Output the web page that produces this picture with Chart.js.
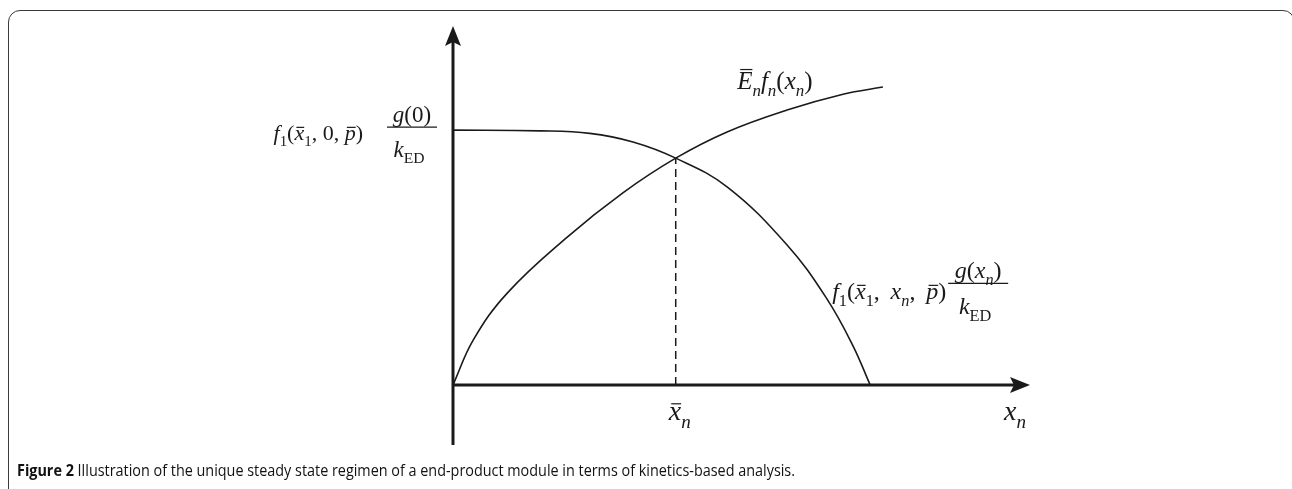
<!DOCTYPE html>
<html>
<head>
<meta charset="utf-8">
<script src="https://cdn.jsdelivr.net/npm/chart.js@4"></script>
<style>
  html, body { margin: 0; padding: 0; background: #fff; }
  #wrap { position: relative; width: 1292px; height: 489px; overflow: hidden; }
  #frame {
    position: absolute; left: 8px; top: 10px; width: 1287px; height: 520px;
    border: 1.5px solid #3a3a3a; border-radius: 12px; box-sizing: border-box;
  }
  #box { position: absolute; left: 0; top: 0; width: 1292px; height: 489px; }
</style>
</head>
<body>
<div id="wrap">
  <div id="frame"></div>
  <div id="box"><canvas id="chart"></canvas></div>
</div>
<script>
// decreasing curve f1(x1, xn, p) g(xn)/kED
const supplyX = [0, 15.1, 23.7, 31.2, 38.6, 47.5, 57.9, 64.8, 69.3, 72.3];
const supplyY = [71.0, 70.8, 70.1, 67.7, 63.2, 55.2, 39.0, 24.0, 11.0, 0];
// increasing curve En fn(xn)
const demandX = [0, 3.5, 9.4, 19.8, 29.5, 38.6, 47.5, 57.9, 67.6, 74.5];
const demandY = [0, 12.5, 25.6, 41.2, 53.6, 63.2, 70.5, 76.6, 81.0, 83.0];
// steady state
const steadyX = [38.6, 38.6];
const steadyY = [0, 63.2];

const caption = 'Illustration of the unique steady state regimen of a end-product module in terms of kinetics-based analysis.';

const pts = (xs, ys) => xs.map((x, i) => ({ x: x, y: ys[i] }));
const INK = '#1a1a1a';
const SERIF = '"Liberation Serif", "Times New Roman", serif';

// tiny math-text writer: t text, i italic, s subscript, b overbar
function rich(ctx, segs, x, y, size, align) {
  const parts = segs.map(s => {
    const fs = s.s ? size * 0.68 : size;
    const font = (s.i ? 'italic ' : '') + fs + 'px ' + SERIF;
    ctx.font = font;
    return { s: s, font: font, w: ctx.measureText(s.t).width };
  });
  const total = parts.reduce((a, p) => a + p.w, 0);
  let cx = align === 'center' ? x - total / 2 : align === 'right' ? x - total : x;
  ctx.save();
  ctx.fillStyle = INK;
  ctx.strokeStyle = INK;
  ctx.textBaseline = 'alphabetic';
  ctx.textAlign = 'left';
  parts.forEach(p => {
    ctx.font = p.font;
    const yy = p.s.s ? y + size * 0.28 : y;
    ctx.fillText(p.s.t, cx, yy);
    if (p.s.b) {
      const top = yy - (p.s.t === 'E' ? size * 0.78 : size * 0.58);
      ctx.lineWidth = 1.2;
      ctx.beginPath();
      ctx.moveTo(cx + p.w * 0.2, top);
      ctx.lineTo(cx + p.w * 1.0, top);
      ctx.stroke();
    }
    cx += p.w;
  });
  ctx.restore();
  return total;
}

function fraction(ctx, num, den, cx, lineY, halfW, size) {
  rich(ctx, num, cx, lineY - 5, size, 'center');
  rich(ctx, den, cx - 3, lineY + size * 1.3, size, 'center');
  ctx.save();
  ctx.strokeStyle = INK;
  ctx.lineWidth = 1.2;
  ctx.beginPath();
  ctx.moveTo(cx - halfW, lineY);
  ctx.lineTo(cx + halfW, lineY);
  ctx.stroke();
  ctx.restore();
}

const kED = [{ t: 'k', i: 1 }, { t: 'ED', s: 1 }];

const axesPlugin = {
  id: 'axesPlugin',
  afterDatasetsDraw(chart) {
    const { ctx, chartArea: a, scales: { x, y } } = chart;
    const x0 = x.getPixelForValue(0);
    const y0 = y.getPixelForValue(0);
    ctx.save();
    ctx.strokeStyle = INK;
    ctx.fillStyle = INK;
    ctx.lineWidth = 3;
    // y axis
    ctx.beginPath();
    ctx.moveTo(x0, a.bottom);
    ctx.lineTo(x0, a.top + 12);
    ctx.stroke();
    ctx.beginPath();
    ctx.moveTo(x0, a.top);
    ctx.lineTo(x0 + 8, a.top + 20);
    ctx.lineTo(x0, a.top + 16);
    ctx.lineTo(x0 - 8, a.top + 20);
    ctx.closePath();
    ctx.fill();
    // x axis
    ctx.beginPath();
    ctx.moveTo(x0, y0);
    ctx.lineTo(a.right - 12, y0);
    ctx.stroke();
    ctx.beginPath();
    ctx.moveTo(a.right, y0);
    ctx.lineTo(a.right - 20, y0 - 8);
    ctx.lineTo(a.right - 16, y0);
    ctx.lineTo(a.right - 20, y0 + 8);
    ctx.closePath();
    ctx.fill();
    ctx.restore();

    // left label f1(x1, 0, p) g(0)/kED
    const yTop = y.getPixelForValue(supplyY[0]);
    rich(ctx, [{ t: 'f', i: 1 }, { t: '1', s: 1 }, { t: '(' }, { t: 'x', i: 1, b: 1 }, { t: '1', s: 1 },
      { t: ', 0, ' }, { t: 'p', i: 1, b: 1 }, { t: ')' }], x0 - 90, yTop + 10, 22, 'right');
    fraction(ctx, [{ t: 'g', i: 1 }, { t: '(0)' }], kED, x0 - 41, yTop - 3, 25, 23);

    // right label f1(x1, xn, p) g(xn)/kED
    const rx = x.getPixelForValue(supplyX[supplyX.length - 1]);
    const ry = y.getPixelForValue(25);
    rich(ctx, [{ t: 'f', i: 1 }, { t: '1', s: 1 }, { t: '(' }, { t: 'x', i: 1, b: 1 }, { t: '1', s: 1 },
      { t: ',\u2009 ' }, { t: 'x', i: 1 }, { t: 'n', i: 1, s: 1 }, { t: ',\u2009 ' }, { t: 'p', i: 1, b: 1 }, { t: ')' }],
      rx - 38, ry + 4, 24, 'left');
    fraction(ctx, [{ t: 'g', i: 1 }, { t: '(' }, { t: 'x', i: 1 }, { t: 'n', i: 1, s: 1 }, { t: ')' }], kED,
      rx + 108, ry - 12, 30, 24);

    // top label En fn(xn)
    const tx = x.getPixelForValue(demandX[demandX.length - 1]);
    const ty = y.getPixelForValue(demandY[demandY.length - 1]);
    rich(ctx, [{ t: 'E', i: 1, b: 1 }, { t: 'n', i: 1, s: 1 }, { t: 'f', i: 1 }, { t: 'n', i: 1, s: 1 },
      { t: '(' }, { t: 'x', i: 1 }, { t: 'n', i: 1, s: 1 }, { t: ')' }], tx - 108, ty + 2, 25, 'center');

    // axis labels
    const sx = x.getPixelForValue(steadyX[0]);
    rich(ctx, [{ t: 'x', i: 1, b: 1 }, { t: 'n', i: 1, s: 1 }], sx - 7, y0 + 35, 28, 'left');
    rich(ctx, [{ t: 'x', i: 1 }, { t: 'n', i: 1, s: 1 }], a.right - 26, y0 + 35, 28, 'left');

    // caption
    ctx.save();
    const capY = a.bottom + 31;
    const bold = 'bold 16px "Open Sans", "Liberation Sans Narrow", sans-serif';
    const reg = '16px "Open Sans", "Liberation Sans Narrow", sans-serif';
    ctx.font = bold;
    const w1 = ctx.measureText('Figure 2 ').width;
    ctx.font = reg;
    const w2 = ctx.measureText(caption).width;
    const k = 778 / (w1 + w2);
    ctx.translate(17, capY);
    ctx.scale(k, 1);
    ctx.fillStyle = '#111';
    ctx.textBaseline = 'alphabetic';
    ctx.font = bold;
    ctx.fillText('Figure 2 ', 0, 0);
    ctx.font = reg;
    ctx.fillText(caption, w1, 0);
    ctx.restore();
  }
};

new Chart(document.getElementById('chart'), {
  type: 'scatter',
  data: {
    datasets: [
      { data: pts(supplyX, supplyY), showLine: true, borderColor: INK, borderWidth: 1.6,
        pointRadius: 0, tension: 0.4 },
      { data: pts(demandX, demandY), showLine: true, borderColor: INK, borderWidth: 1.6,
        pointRadius: 0, tension: 0.4 },
      { data: pts(steadyX, steadyY), showLine: true, borderColor: INK, borderWidth: 1.5,
        borderDash: [8, 5], pointRadius: 0 }
    ]
  },
  options: {
    responsive: true,
    maintainAspectRatio: false,
    animation: false,
    layout: { padding: { left: 453, right: 262, top: 26, bottom: 44 } },
    plugins: { legend: { display: false }, tooltip: { enabled: false } },
    scales: {
      x: { type: 'linear', min: 0, max: 100, display: false },
      y: { type: 'linear', min: -16.7, max: 100, display: false }
    }
  },
  plugins: [axesPlugin]
});
</script>
</body>
</html>
